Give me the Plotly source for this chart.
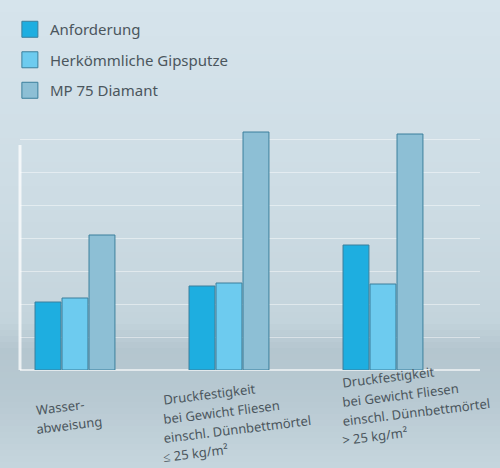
import plotly.graph_objects as go

# ---- data ----
categories = ["Wasserabweisung", "Druck ≤ 25", "Druck > 25"]
category_label_lines = [
    ["Wasser-", "abweisung"],
    ["Druckfestigkeit", "bei Gewicht Fliesen", "einschl. Dünnbettmörtel", "≤ 25 kg/m²"],
    ["Druckfestigkeit", "bei Gewicht Fliesen", "einschl. Dünnbettmörtel", "> 25 kg/m²"],
]
series_names = ["Anforderung", "Herkömmliche Gipsputze", "MP 75 Diamant"]
anforderung = [68, 84, 125]
herkoemmliche = [72, 87, 86]
mp75_diamant = [135, 238, 236]

# ---- styling ----
W, H = 500, 468
M_L, M_R, M_T, M_B = 20, 20, 5, 98
bar_colors = ["#1eaee0", "#6dcbef", "#8dbfd5"]
edge_color = "#3b7f9c"
text_color = "#4b565d"
font_family = "Noto Sans"
plot_h = H - M_T - M_B

fig = go.Figure()
for i, (name, vals) in enumerate(zip(series_names, [anforderung, herkoemmliche, mp75_diamant])):
    fig.add_trace(go.Bar(
        x=categories, y=vals, name=name, showlegend=False, legendgroup=f"g{i}",
        marker=dict(color=bar_colors[i], line=dict(color=edge_color, width=1)),
        hoverinfo="skip",
    ))
# legend entries with larger square swatches
for i, name in enumerate(series_names):
    fig.add_trace(go.Scatter(
        x=[None], y=[None], mode="markers", name=name, legendgroup=f"g{i}",
        marker=dict(symbol="square", size=16, color=bar_colors[i],
                    line=dict(color=edge_color, width=1)),
        hoverinfo="skip",
    ))

# background gradient made of thin strips (paper coordinates)
def py_to_paper(py):
    return (H - M_B - py) / plot_h

stops = [(0, (214, 228, 236)), (200, (205, 220, 228)), (320, (196, 212, 220)),
         (350, (180, 198, 207)), (400, (184, 201, 210)), (468, (198, 214, 222))]

def color_at(py):
    for (y0, c0), (y1, c1) in zip(stops[:-1], stops[1:]):
        if y0 <= py <= y1:
            t = (py - y0) / (y1 - y0)
            return "rgb(%d,%d,%d)" % tuple(round(a + (b - a) * t) for a, b in zip(c0, c1))
    return "rgb(%d,%d,%d)" % stops[-1][1]

shapes = []
step = 6
for py in range(0, H, step):
    shapes.append(dict(type="rect", xref="paper", yref="paper",
                       x0=-0.1, x1=1.1, y0=py_to_paper(py + step + 1), y1=py_to_paper(py),
                       fillcolor=color_at(py + step / 2), line=dict(width=0), layer="below"))
# left wall edge
shapes.append(dict(type="line", xref="paper", yref="y", x0=0, x1=0, y0=-20, y1=225,
                   line=dict(color="rgba(255,255,255,0.75)", width=3), layer="below"))

# rotated category labels, one annotation per line (bottom-left anchored)
label_offset = [(-42, -51), (-69, -41), (-44, -24)]
line_step = 19
annotations = []
for cat, lines, (dx, dy) in zip(categories, category_label_lines, label_offset):
    for j, line in enumerate(lines):
        annotations.append(dict(
            x=cat, y=0, xref="x", yref="y", text=line, showarrow=False,
            xanchor="left", yanchor="bottom", textangle=-7,
            xshift=dx, yshift=dy - j * line_step,
            font=dict(size=13, color=text_color, family=font_family),
        ))

fig.update_layout(
    width=W, height=H,
    margin=dict(l=M_L, r=M_R, t=M_T, b=M_B),
    paper_bgcolor="#cfdde5", plot_bgcolor="rgba(0,0,0,0)",
    barmode="group", bargap=0.474, bargroupgap=0.04,
    font=dict(family=font_family, color=text_color),
    shapes=shapes, annotations=annotations,
    showlegend=True,
    legend=dict(x=-0.022, y=0.978, xanchor="left", yanchor="top", bgcolor="rgba(0,0,0,0)",
                font=dict(size=15, color=text_color, family=font_family),
                tracegroupgap=8, traceorder="grouped"),
    xaxis=dict(range=[-0.357, 2.63], showticklabels=False, showgrid=False,
               zeroline=False, showline=False, fixedrange=True),
    yaxis=dict(range=[0, plot_h], tickvals=list(range(33, 240, 33)), showticklabels=False,
               showgrid=True, gridcolor="rgba(255,255,255,0.45)", gridwidth=1,
               zeroline=True, zerolinecolor="rgba(255,255,255,0.6)", zerolinewidth=2,
               showline=False, fixedrange=True),
)

fig.write_html("out.html", config={"displayModeBar": False},
               post_script="document.body.style.margin='0';")
